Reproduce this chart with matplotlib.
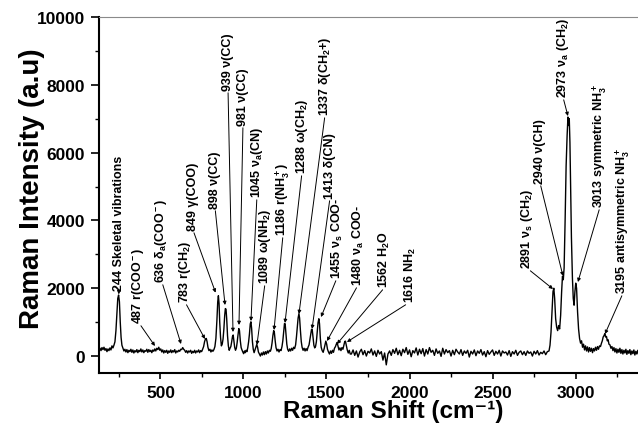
import matplotlib
matplotlib.use("Agg")
import matplotlib.pyplot as plt
from matplotlib.ticker import MultipleLocator

plt.rcParams['font.family'] = ['Liberation Sans', 'DejaVu Sans']
plt.rcParams['font.weight'] = 'bold'
plt.rcParams['mathtext.fontset'] = 'custom'
plt.rcParams['mathtext.rm'] = 'Liberation Sans:bold'
plt.rcParams['mathtext.bf'] = 'Liberation Sans:bold'
plt.rcParams['mathtext.it'] = 'Liberation Sans:bold:italic'
plt.rcParams['mathtext.default'] = 'bf'

# (shift cm-1, intensity a.u.) up to the end of the fingerprint region
fingerprint = [
    (130, 170), (136, 230), (142, 160), (148, 250), (154, 190), (160, 260), (166, 170), (172, 220),
    (178, 130), (184, 210), (190, 160), (196, 240), (202, 180), (208, 300), (214, 240), (220, 320),
    (226, 420), (232, 750), (238, 1300), (243, 1700), (248, 1800), (253, 1600), (258, 1000),
    (263, 550), (268, 320), (274, 230), (280, 150), (286, 200), (292, 120), (298, 190), (304, 100),
    (310, 170), (316, 130), (322, 200), (328, 110), (334, 180), (340, 90), (346, 160), (352, 120),
    (358, 190), (364, 100), (370, 170), (376, 130), (382, 210), (388, 120), (394, 180), (400, 100),
    (406, 160), (412, 140), (418, 200), (424, 110), (430, 190), (436, 130), (442, 170), (448, 100),
    (454, 180), (460, 140), (466, 210), (472, 150), (478, 230), (484, 190), (490, 260), (496, 170),
    (502, 210), (508, 120), (514, 180), (520, 90), (526, 160), (532, 110), (538, 170), (544, 80),
    (550, 150), (556, 110), (562, 180), (568, 100), (574, 160), (580, 120), (586, 190), (592, 90),
    (598, 150), (604, 120), (610, 170), (616, 140), (622, 200), (628, 190), (634, 250), (640, 200),
    (646, 170), (652, 110), (658, 160), (664, 90), (670, 150), (676, 120), (682, 170), (688, 80),
    (694, 140), (700, 100), (706, 170), (712, 90), (718, 150), (724, 120), (730, 180), (736, 100),
    (742, 160), (748, 130), (754, 200), (760, 280), (766, 430), (771, 500), (776, 520), (781, 420),
    (786, 260), (792, 160), (798, 200), (804, 120), (810, 180), (816, 140), (822, 190), (828, 280),
    (834, 520), (840, 1050), (845, 1600), (849, 1780), (853, 1550), (857, 1000), (862, 550),
    (867, 300), (872, 350), (877, 500), (882, 800), (887, 1200), (891, 1400), (895, 1380),
    (899, 1100), (904, 600), (909, 300), (914, 170), (919, 230), (924, 280), (929, 420), (934, 580),
    (938, 620), (942, 450), (947, 260), (952, 170), (957, 230), (962, 400), (967, 620), (972, 810),
    (976, 750), (981, 450), (986, 250), (991, 180), (996, 120), (1001, 70), (1006, 150), (1011, 100),
    (1016, 170), (1021, 130), (1026, 250), (1031, 420), (1036, 650), (1041, 950), (1045, 1010),
    (1049, 820), (1054, 420), (1059, 200), (1064, 100), (1069, 180), (1074, 250), (1080, 340),
    (1085, 260), (1090, 120), (1096, 60), (1102, 0), (1108, 90), (1114, 30), (1120, 120), (1126, 40),
    (1132, 130), (1138, 60), (1144, 150), (1150, 90), (1156, 170), (1162, 140), (1167, 220),
    (1172, 380), (1177, 600), (1182, 750), (1186, 700), (1191, 450), (1196, 250), (1202, 150),
    (1208, 200), (1214, 120), (1220, 190), (1226, 160), (1232, 280), (1237, 450), (1242, 720),
    (1247, 960), (1251, 950), (1256, 650), (1261, 350), (1266, 200), (1272, 140), (1278, 210),
    (1284, 150), (1290, 230), (1296, 170), (1302, 260), (1308, 220), (1314, 330), (1319, 560),
    (1324, 850), (1329, 1120), (1334, 1250), (1338, 1120), (1343, 750), (1348, 430), (1353, 260),
    (1359, 170), (1365, 230), (1371, 150), (1377, 220), (1383, 160), (1389, 260), (1395, 330),
    (1400, 480), (1405, 650), (1410, 790), (1414, 780), (1419, 560), (1424, 320), (1429, 240),
    (1434, 280), (1439, 420), (1444, 700), (1449, 980), (1454, 1100), (1458, 950), (1463, 520),
    (1468, 260), (1474, 160), (1480, 110), (1486, 220), (1491, 330), (1496, 440), (1501, 350),
    (1506, 200), (1512, 120), (1518, 60), (1524, 150), (1530, 80), (1536, 170), (1542, 110),
    (1548, 230), (1554, 280), (1559, 350), (1564, 400), (1569, 300), (1575, 180), (1581, 240),
    (1587, 160), (1593, 250), (1599, 200), (1605, 330), (1610, 430), (1614, 440), (1619, 320),
    (1625, 180), (1631, 90), (1637, 170), (1643, 60),
]

# flat stretch 1650-2830 cm-1, one reading every 10 cm-1
flat_start, flat_step = 1650, 10
flat_counts = [
    60, 180, 20, 150, -30, 120, 200, 40, 160, 0, 140, 90, 210, 30, 150,
    -10, 170, 60, 130, -120, 90, -260, 60, 150, 20, 190, 80, 230, 40, 170,
    10, 200, 100, 250, 50, 180, -20, 160, 90, 240, 30, 200, 70, 220, 0,
    190, 60, 250, 110, 170, 20, 210, 80, 150, -10, 230, 60, 190, 100, 160,
    0, 170, 40, 200, 120, 60, 190, 20, 150, 80, 170, -30, 140, 60, 180,
    10, 150, 80, 190, 30, 130, -20, 160, 50, 120, 180, 20, 140, 60, 170,
    0, 150, 90, 120, 30, 160, -10, 130, 60, 170, 20, 110, 150, 40, 130,
    20, 150, 80, 120, 0, 140, 60, 160, 30, 110, 70, 150, 40, 130,
]

# C-H / N-H stretching region
stretching = [
    (2840, 150), (2846, 320), (2852, 700), (2858, 1300), (2864, 1900), (2869, 2000), (2874, 1700),
    (2880, 1100), (2886, 850), (2892, 750), (2898, 900), (2904, 800), (2910, 1200), (2916, 1900),
    (2921, 2350), (2926, 2250), (2931, 2600), (2937, 4000), (2943, 5600), (2949, 6500),
    (2954, 7050), (2958, 6800), (2962, 7000), (2966, 6300), (2970, 5000), (2975, 3500),
    (2981, 2300), (2986, 1700), (2991, 1500), (2996, 1900), (3001, 2150), (3006, 2000),
    (3012, 1300), (3018, 800), (3024, 520), (3030, 380), (3036, 450), (3042, 260), (3048, 350),
    (3054, 180), (3060, 300), (3066, 150), (3072, 270), (3078, 120), (3084, 250), (3090, 140),
    (3096, 230), (3102, 100), (3108, 220), (3114, 150), (3120, 260), (3126, 170), (3132, 280),
    (3138, 200), (3144, 300), (3150, 280), (3156, 380), (3161, 450), (3166, 560), (3171, 600),
    (3176, 660), (3181, 560), (3186, 580), (3191, 450), (3196, 480), (3201, 350), (3207, 330),
    (3213, 230), (3219, 280), (3225, 160), (3231, 250), (3237, 120), (3243, 220), (3249, 90),
    (3255, 200), (3261, 110), (3267, 230), (3273, 80), (3279, 190), (3285, 60), (3291, 170),
    (3297, 90), (3303, 200), (3309, 50), (3315, 160), (3321, 80), (3327, 190), (3333, 40),
    (3339, 150), (3345, 70), (3351, 180), (3357, 30), (3363, 140), (3369, 60), (3375, 170),
    (3381, 40), (3387, 130), (3393, 70), (3400, 150),
]

# band assignments written next to the peaks
band_labels = [
    '244 Skeletal vibrations', '487 r(COO$^-$)', '636 δ$_a$(COO$^-$)', '783 r(CH$_2$)',
    '849 γ(COO)', '898 ν(CC)', '939 ν(CC)', '981 ν(CC)', '1045 ν$_a$(CN)', '1089 ω(NH$_2$)',
    '1186 r(NH$_3^+$)', '1288 ω(CH$_2$)', '1337 δ(CH$_2$+)', '1413 δ(CN)', '1455 ν$_s$ COO-',
    '1480 ν$_a$ COO-', '1562 H$_2$O', '1616 NH$_2$', '2891 ν$_s$ (CH$_2$)', '2940 ν(CH)',
    '2973 ν$_a$ (CH$_2$)', '3013 symmetric NH$_3^+$', '3195 antisymmetric NH$_3^+$',
]

# where each label starts and where its arrow points
text_pos = [
    (250, 1950), (371, 975), (509, 2184), (648, 1594), (696, 3717), (829, 4366), (907, 7846),
    (997, 6814), (1081, 4690), (1130, 2154), (1238, 3570), (1352, 5398), (1491, 7108),
    (1521, 4661), (1563, 2302), (1690, 2095), (1852, 2036), (2003, 1594), (2707, 2596),
    (2786, 5103), (2924, 7639), (3147, 4395), (3286, 1859),
]
arrow_to = [
    (249, 1820), (467, 296), (624, 355), (768, 503), (832, 1870), (889, 1505), (937, 709),
    (973, 916), (1045, 1033), (1081, 326), (1184, 768), (1250, 975), (1334, 1240),
    (1413, 798), (1467, 1151), (1503, 444), (1563, 355), (1623, 414), (2864, 1977),
    (2924, 2361), (2954, 7079), (3014, 2184), (3177, 650),
]

shift = [p[0] for p in fingerprint]
intensity = [p[1] for p in fingerprint]
for i, v in enumerate(flat_counts):
    shift.append(flat_start + i * flat_step)
    intensity.append(v)
shift += [p[0] for p in stretching]
intensity += [p[1] for p in stretching]

fig = plt.figure(figsize=(6.38, 4.27), dpi=100)
ax = fig.add_axes([99 / 638, 53 / 427, 543 / 638, 356 / 427])

ax.plot(shift, intensity, color='black', lw=1.0)

for text, (tx, ty), (px, py) in zip(band_labels, text_pos, arrow_to):
    ax.annotate(text, xy=(px, py), xytext=(tx, ty), rotation=90,
                ha='center', va='bottom', fontsize=9, fontweight='bold',
                arrowprops=dict(arrowstyle='-|>', color='black', lw=0.7,
                                mutation_scale=5, shrinkA=0, shrinkB=0,
                                relpos=(0.5, 0)))

ax.set_xlim(130, 3400)
ax.set_ylim(-500, 10000)
ax.xaxis.set_major_locator(MultipleLocator(500))
ax.xaxis.set_minor_locator(MultipleLocator(250))
ax.yaxis.set_major_locator(MultipleLocator(2000))
ax.yaxis.set_minor_locator(MultipleLocator(1000))

ax.spines['right'].set_visible(False)
ax.spines['top'].set_color('#8a8a8a')
ax.spines['top'].set_linewidth(0.8)
ax.spines['left'].set_linewidth(1.5)
ax.spines['bottom'].set_linewidth(1.5)

ax.tick_params(axis='both', which='major', direction='out', width=1.2, labelsize=12.5)
ax.tick_params(axis='y', which='major', length=6, pad=4)
ax.tick_params(axis='x', which='major', length=4, pad=5)
ax.tick_params(axis='both', which='minor', direction='out', width=1.0, length=3)
ax.tick_params(top=False, right=False, which='both')
for lab in ax.get_xticklabels() + ax.get_yticklabels():
    lab.set_fontweight('bold')

ax.set_xlabel('Raman Shift (cm⁻¹)', fontsize=17.5, fontweight='bold')
ax.xaxis.set_label_coords(0.542, -0.073)
ax.set_ylabel('Raman Intensity (a.u)', fontsize=20, fontweight='bold')
ax.yaxis.set_label_coords(-0.10, 0.52)

fig.savefig('out.png', dpi=100)
